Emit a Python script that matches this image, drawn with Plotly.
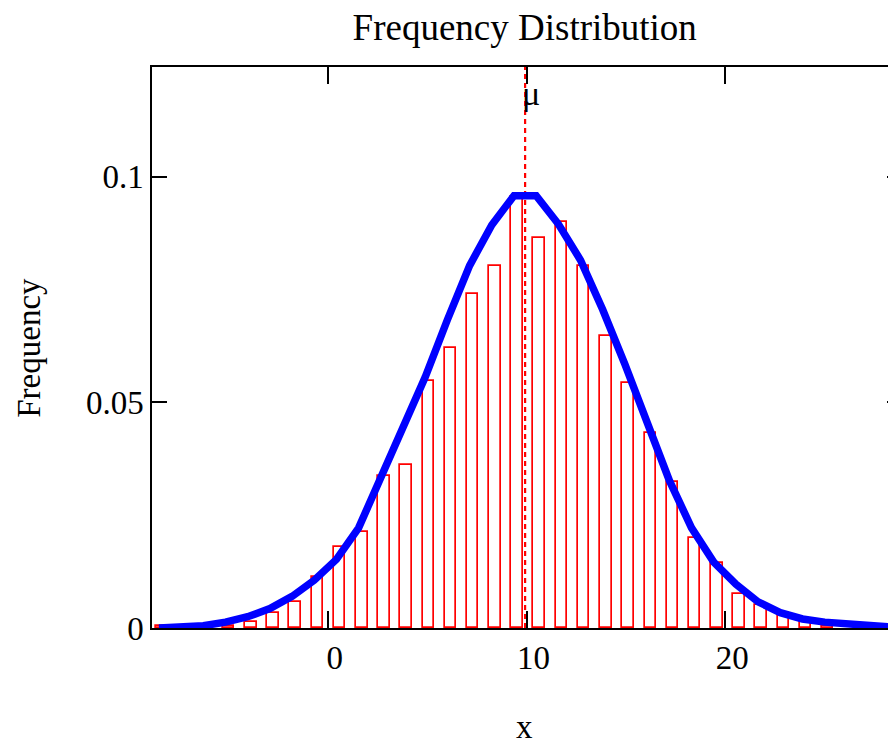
import plotly.graph_objects as go

# ---- data ----
bin_centers = [-8.35, -7.23, -6.11, -4.99, -3.88, -2.76, -1.64, -0.53, 0.59, 1.71,
               2.83, 3.94, 5.06, 6.18, 7.29, 8.41, 9.53, 10.64, 11.76, 12.88,
               13.99, 15.11, 16.23, 17.35, 18.46, 19.58, 20.70, 21.81, 22.93, 24.05, 25.16]
frequencies = [0.0004, 0.0, 0.0, 0.0005, 0.0014, 0.0033, 0.0058, 0.0112, 0.0180, 0.0212,
               0.0337, 0.0361, 0.0547, 0.0620, 0.0740, 0.0802, 0.0955, 0.0864, 0.0900, 0.0802,
               0.0647, 0.0543, 0.0432, 0.0324, 0.0200, 0.0144, 0.0075, 0.0050, 0.0033, 0.0014, 0.0004]

curve_x = [-8.50, -7.385, -6.268, -5.151, -4.034, -2.917, -1.80, -0.683, 0.434, 1.551,
           2.668, 3.785, 4.902, 6.019, 7.136, 8.253, 9.37, 10.487, 11.604, 12.721,
           13.838, 14.955, 16.072, 17.189, 18.306, 19.423, 20.54, 21.657, 22.774, 23.891,
           25.008, 26.125, 27.242, 28.359, 29.0]
curve_y = [0.0000, 0.0002, 0.0005, 0.0013, 0.0025, 0.0043, 0.0070, 0.0106, 0.0152, 0.0222,
           0.0335, 0.0449, 0.0556, 0.0683, 0.0803, 0.0893, 0.0958, 0.0958, 0.0895, 0.0815,
           0.0705, 0.0584, 0.0455, 0.0327, 0.0222, 0.0146, 0.0097, 0.0058, 0.0034, 0.0020,
           0.0013, 0.0008, 0.0004, 0.0002, 0.0001]

mu = 9.93
x_ticks = [0, 10, 20]
y_ticks = [0, 0.05, 0.1]
y_tick_labels = ["0", "0.05", "0.1"]

x_range = [-8.85, 28.9]
y_range = [0, 0.1243]
bar_width = 0.58

FONT = "Liberation Serif, Times New Roman, serif"

fig = go.Figure()
fig.add_trace(go.Bar(
    x=bin_centers, y=frequencies, width=bar_width,
    marker=dict(color="rgba(0,0,0,0)", line=dict(color="#ff0000", width=1.7)),
    showlegend=False, hoverinfo="x+y"))
fig.add_trace(go.Scatter(
    x=curve_x, y=curve_y, mode="lines",
    line=dict(color="#0000ff", width=7.5), showlegend=False))

fig.add_shape(type="line", xref="x", yref="paper", x0=mu, x1=mu, y0=0, y1=1,
              line=dict(color="#ff0000", width=2.2, dash="5px,4px"), layer="below")

fig.add_annotation(x=mu, xref="x", y=1, yref="paper", text="μ", showarrow=False,
                   xanchor="left", yanchor="top", xshift=-5, yshift=-6,
                   font=dict(family=FONT, size=34, color="black"))
fig.add_annotation(x=-0.165, xref="paper", y=0.5, yref="paper", text="Frequency",
                   showarrow=False, textangle=-90, xanchor="center", yanchor="middle",
                   font=dict(family=FONT, size=33, color="black"))
fig.add_annotation(x=0.497, xref="paper", y=-0.2121, yref="paper", text="x",
                   showarrow=False, xanchor="center", yanchor="bottom",
                   font=dict(family=FONT, size=33, color="black"))

fig.update_layout(
    width=896, height=747,
    margin=dict(l=144, r=0, t=59, b=127),
    paper_bgcolor="white", plot_bgcolor="white",
    bargap=0,
    title=dict(text="Frequency Distribution", x=0.497, xref="paper",
               y=1 - 19 / 747, yref="container", yanchor="middle", xanchor="center",
               font=dict(family=FONT, size=37, color="black")),
    xaxis=dict(range=x_range, tickvals=x_ticks, ticks="inside", ticklen=17,
               tickwidth=1.5, tickcolor="black", showline=True, linecolor="black",
               linewidth=1.5, mirror="ticks", showgrid=False, zeroline=False,
               ticklabelshift=7, ticklabelstandoff=0,
               tickfont=dict(family=FONT, size=33, color="black")),
    yaxis=dict(range=y_range, tickvals=y_ticks, ticktext=y_tick_labels, ticks="inside",
               ticklen=15, tickwidth=1.5, tickcolor="black", showline=True,
               linecolor="black", linewidth=1.5, mirror="ticks", showgrid=False,
               zeroline=False, tickfont=dict(family=FONT, size=33, color="black")),
)

fig.write_html("out.html")
